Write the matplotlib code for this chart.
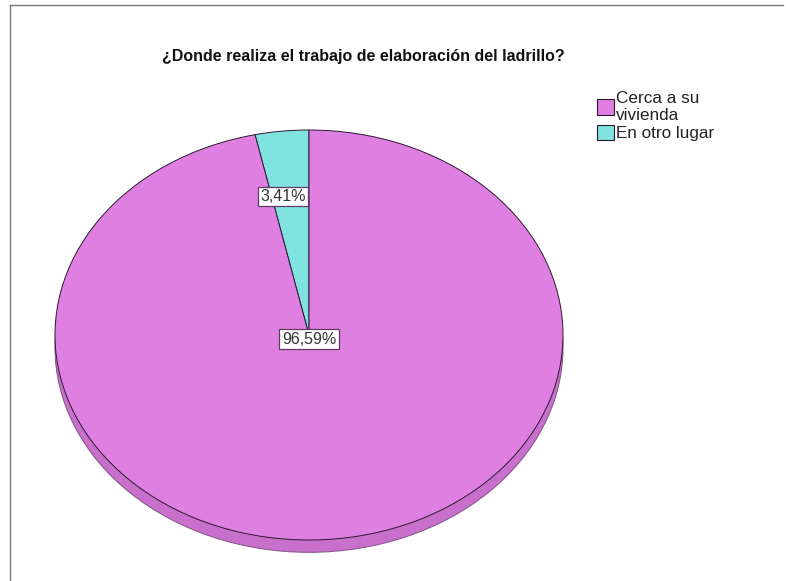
import numpy as np
import matplotlib
matplotlib.use("Agg")
import matplotlib.pyplot as plt
from matplotlib.patches import Ellipse, Wedge
from matplotlib.lines import Line2D

plt.rcParams["font.family"] = ["Liberation Sans", "DejaVu Sans"]

# Data
title = "¿Donde realiza el trabajo de elaboración del ladrillo?"
categories = ["Cerca a su\nvivienda", "En otro lugar"]
percents = [96.59, 3.41]
colors = ["#E07FE2", "#80E3E0"]
side_color = "#C870CC"

W, H = 786, 581
fig = plt.figure(figsize=(W / 100, H / 100), dpi=100)

# pie top face occupies pixels x 55..563, y 130..540
ax = fig.add_axes([55 / W, (H - 540) / H, 508 / W, 410 / H])
ax.set_xlim(-1, 1)
ax.set_ylim(-1, 1)
ax.axis("off")

# 3D side: shifted ellipse underneath
depth = 0.06
side = Ellipse((0, -depth), 2, 2, facecolor=side_color, edgecolor="#8a5a8e",
               linewidth=0.8, clip_on=False, zorder=1)
ax.add_patch(side)
band = plt.Rectangle((-1, -depth), 2, depth, facecolor=side_color,
                     edgecolor="none", clip_on=False, zorder=1)
ax.add_patch(band)

# slices start at 12 o'clock, drawn counter-clockwise (small slice first)
order = [1, 0]
start = 90.0
mids = {}
for i in order:
    span = percents[i] / 100 * 360
    w = Wedge((0, 0), 1, start, start + span, facecolor=colors[i],
              edgecolor="#2a1a2e", linewidth=0.7, clip_on=False, zorder=2,
              label=categories[i])
    ax.add_patch(w)
    mids[i] = start + span / 2
    start += span

box = dict(boxstyle="square,pad=0.15", facecolor="white", edgecolor="#5a3a60",
           linewidth=0.9)
# small slice label inside slice, large slice label at centre
a = np.deg2rad(mids[1])
ax.text(0.68 * np.cos(a) - 0.03, 0.68 * np.sin(a), f"{percents[1]:.2f}%".replace(".", ","),
        ha="center", va="center", fontsize=11.5, color="#333333", bbox=box, zorder=5)
ax.text(0, -0.02, f"{percents[0]:.2f}%".replace(".", ","),
        ha="center", va="center", fontsize=11.5, color="#333333", bbox=box, zorder=5)

fig.text(363 / W, 1 - 56 / H, title, ha="center", va="center",
         fontsize=11.5, fontweight="bold", color="#111111")

handles = [plt.Rectangle((0, 0), 1, 1, facecolor=colors[i], edgecolor="#2a1a2e",
                         linewidth=0.8) for i in range(len(categories))]
fig.legend(handles, categories, loc="upper left",
           bbox_to_anchor=(588 / W, 1 - 82 / H), frameon=False,
           fontsize=12.3, handlelength=1.0, handleheight=1.0,
           handletextpad=0.15, labelspacing=0.1, borderpad=0,
           labelcolor="#222222")

# frame lines (top and left)
fig.add_artist(Line2D([10 / W, 10 / W], [0, 1 - 5 / H], color="#777777", linewidth=1))
fig.add_artist(Line2D([10 / W, 783 / W], [1 - 5 / H, 1 - 5 / H], color="#777777", linewidth=1))

fig.savefig("out.png", dpi=100, facecolor="white")
